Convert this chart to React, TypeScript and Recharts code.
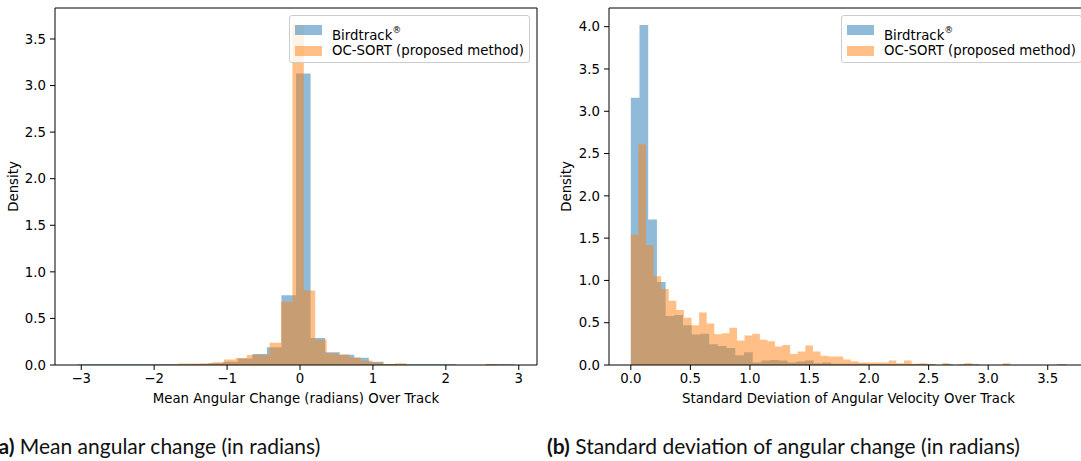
import React from "react";
import { ComposedChart, Area, XAxis, YAxis, ReferenceLine } from "recharts";

const BLUE = "#1f77b4";
const ORANGE = "#ff7f0e";
const FONT = "'DejaVu Sans', sans-serif";

// (a) mean angular change over track, 30 bins per method
const meanBirdStart = -3.05;
const meanBirdWidth = 0.1997;
const meanBird = [
  0.008, 0.008, 0.008, 0.008, 0.008, 0.008, 0.008, 0.008, 0.012, 0.02,
  0.035, 0.07, 0.118, 0.19, 0.75, 3.13, 0.29, 0.137, 0.11, 0.077,
  0.035, 0.01, 0.008, 0.008, 0.008, 0.008, 0, 0, 0.008, 0.008,
];
const meanOcStart = -1.98;
const meanOcWidth = 0.1563;
const meanOc = [
  0.005, 0.005, 0.015, 0.015, 0.02, 0.03, 0.06, 0.075, 0.107, 0.11,
  0.24, 0.68, 3.65, 0.8, 0.27, 0.127, 0.113, 0.08, 0.047, 0.027,
  0.012, 0.02, 0, 0, 0, 0, 0, 0, 0, 0.01,
];

// (b) std of angular velocity over track, 50 bins per method
const stdBirdStart = 0;
const stdBirdWidth = 0.0731;
const stdBird = [
  3.16, 4.02, 1.72, 0.98, 0.58, 0.59, 0.47, 0.36, 0.37, 0.245,
  0.225, 0.2, 0.115, 0.15, 0.03, 0.053, 0.06, 0.053, 0.03, 0.041,
  0.053, 0.02, 0.03, 0.015, 0.015, 0.015, 0.015, 0.012, 0.012, 0.01,
  0.01, 0.01, 0.01, 0.01, 0.01, 0, 0.01, 0, 0.005, 0.01,
  0, 0, 0, 0, 0, 0, 0, 0, 0, 0.01,
];
const stdOcStart = 0;
const stdOcWidth = 0.0637;
const stdOc = [
  1.54, 2.61, 1.42, 1.05, 0.9, 0.76, 0.65, 0.56, 0.47, 0.62,
  0.49, 0.365, 0.375, 0.44, 0.29, 0.35, 0.37, 0.3, 0.28, 0.22,
  0.235, 0.13, 0.16, 0.23, 0.16, 0.11, 0.1, 0.1, 0.065, 0.045,
  0.03, 0.03, 0.03, 0.03, 0.053, 0.02, 0.053, 0.015, 0.02, 0.01,
  0, 0.02, 0, 0.01, 0.02, 0, 0, 0, 0, 0.02,
];

const meanTicksX = [-3, -2, -1, 0, 1, 2, 3];
const meanTicksY = [0, 0.5, 1, 1.5, 2, 2.5, 3, 3.5];
const stdTicksX = [0, 0.5, 1, 1.5, 2, 2.5, 3, 3.5];
const stdTicksY = [0, 0.5, 1, 1.5, 2, 2.5, 3, 3.5, 4];

const birdName = "Birdtrack";
const ocName = "OC-SORT (proposed method)";

// value of the histogram bin that starts at or before x
function binValue(x: number, start: number, width: number, values: number[]) {
  const i = Math.floor((x - start) / width + 1e-6);
  return i >= 0 && i < values.length ? values[i] : 0;
}

function edges(start: number, width: number, values: number[]) {
  return Array.from({ length: values.length + 1 }, (_, i) => start + i * width);
}

function buildHist(
  bStart: number, bWidth: number, bird: number[],
  oStart: number, oWidth: number, oc: number[]
) {
  const xs = [...edges(bStart, bWidth, bird), ...edges(oStart, oWidth, oc)].sort((a, b) => a - b);
  return xs.map((x) => ({
    x,
    bird: binValue(x, bStart, bWidth, bird),
    oc: binValue(x, oStart, oWidth, oc),
  }));
}

const tickStyle = { fontFamily: FONT, fontSize: 13.3, fill: "#000" };

const HistLegend = ({ left }: { left: number }) => (
  <div
    style={{
      position: "absolute",
      left,
      top: 15,
      width: 241,
      height: 48,
      boxSizing: "border-box",
      border: "1px solid #cccccc",
      borderRadius: 3,
      background: "rgba(255,255,255,0.8)",
      fontFamily: FONT,
      fontSize: 13.3,
      color: "#000",
    }}
  >
    {[
      { c: BLUE, label: <>{birdName}<sup style={{ fontSize: 9, verticalAlign: "7px" }}>®</sup></>, cy: 14 },
      { c: ORANGE, label: <>{ocName}</>, cy: 35 },
    ].map((r, i) => (
      <div key={i}>
        <div
          style={{
            position: "absolute",
            left: 5,
            top: r.cy - 5,
            width: 26.7,
            height: 9.5,
            background: r.c,
            opacity: 0.5,
          }}
        />
        <div style={{ position: "absolute", left: 42, top: r.cy - 9, lineHeight: "18px", whiteSpace: "nowrap" }}>
          {r.label}
        </div>
      </div>
    ))}
  </div>
);

type PanelProps = {
  left: number;
  width: number;
  yAxisWidth: number;
  rightMargin: number;
  data: { x: number; bird: number; oc: number }[];
  xDomain: [number, number];
  yDomain: [number, number];
  xTicks: number[];
  yTicks: number[];
  xFormat: (v: number) => string;
  xLabel: string;
  densityX: number;
  legendLeft: number;
};

const HistPanel: React.FC<PanelProps> = (p) => (
  <div style={{ position: "absolute", left: p.left, top: 0, width: p.width, height: 410 }}>
    <ComposedChart
      width={p.width}
      height={410}
      data={p.data}
      margin={{ top: 8, right: p.rightMargin, bottom: 0, left: 0 }}
    >
      <XAxis
        dataKey="x"
        type="number"
        domain={p.xDomain}
        allowDataOverflow
        ticks={p.xTicks}
        tickFormatter={p.xFormat}
        interval={0}
        height={45}
        tickSize={5}
        tickMargin={4}
        tick={tickStyle}
        stroke="#000"
        axisLine={{ stroke: "#000", strokeWidth: 1 }}
        tickLine={{ stroke: "#000" }}
        label={{
          value: p.xLabel,
          position: "insideTop",
          offset: 29,
          style: { fontFamily: FONT, fontSize: 13.3, fill: "#000" },
        }}
      />
      <YAxis
        type="number"
        domain={p.yDomain}
        allowDataOverflow
        ticks={p.yTicks}
        tickFormatter={(v: number) => v.toFixed(1)}
        interval={0}
        width={p.yAxisWidth}
        tickSize={5}
        tickMargin={4}
        tick={tickStyle}
        axisLine={{ stroke: "#000", strokeWidth: 1 }}
        tickLine={{ stroke: "#000" }}
        label={{
          content: () => (
            <text
              x={p.densityX}
              y={186.5}
              transform={`rotate(-90 ${p.densityX} 186.5)`}
              textAnchor="middle"
              dominantBaseline="central"
              style={{ fontFamily: FONT, fontSize: 13.3, fill: "#000" }}
            >
              Density
            </text>
          ),
        }}
      />
      <Area
        type="stepAfter"
        dataKey="bird"
        name={birdName}
        stroke="none"
        fill={BLUE}
        fillOpacity={0.5}
        dot={false}
        activeDot={false}
        isAnimationActive={false}
      />
      <Area
        type="stepAfter"
        dataKey="oc"
        name={ocName}
        stroke="none"
        fill={ORANGE}
        fillOpacity={0.5}
        dot={false}
        activeDot={false}
        isAnimationActive={false}
      />
      <ReferenceLine y={p.yDomain[1]} stroke="#000" strokeWidth={1} />
      <ReferenceLine x={p.xDomain[1]} stroke="#000" strokeWidth={1} />
    </ComposedChart>
    <HistLegend left={p.legendLeft} />
  </div>
);

const meanData = buildHist(meanBirdStart, meanBirdWidth, meanBird, meanOcStart, meanOcWidth, meanOc);
const stdData = buildHist(stdBirdStart, stdBirdWidth, stdBird, stdOcStart, stdOcWidth, stdOc);

const captionStyle: React.CSSProperties = {
  position: "absolute",
  top: 434,
  fontFamily: "Lato, 'Open Sans', sans-serif",
  fontSize: 21,
  lineHeight: "24px",
  color: "#111",
  whiteSpace: "nowrap",
};

export default function App() {
  return (
    <div
      style={{
        position: "absolute",
        left: 0,
        top: 0,
        width: 1081,
        height: 461,
        overflow: "hidden",
        background: "#fff",
      }}
    >
      <HistPanel
        left={0}
        width={540}
        yAxisWidth={55}
        rightMargin={3}
        data={meanData}
        xDomain={[-3.36, 3.25]}
        yDomain={[0, 3.8325]}
        xTicks={meanTicksX}
        yTicks={meanTicksY}
        xFormat={(v) => String(v).replace("-", "\u2212")}
        xLabel="Mean Angular Change (radians) Over Track"
        densityX={13.5}
        legendLeft={289}
      />
      <HistPanel
        left={540}
        width={548}
        yAxisWidth={69}
        rightMargin={0}
        data={stdData}
        xDomain={[-0.183, 3.838]}
        yDomain={[0, 4.221]}
        xTicks={stdTicksX}
        yTicks={stdTicksY}
        xFormat={(v) => v.toFixed(1)}
        xLabel="Standard Deviation of Angular Velocity Over Track"
        densityX={26}
        legendLeft={301}
      />
      <div style={{ ...captionStyle, left: -7 }}>
        <b>(a)</b> Mean angular change (in radians)
      </div>
      <div style={{ ...captionStyle, left: 547 }}>
        <b>(b)</b> Standard deviation of angular change (in radians)
      </div>
    </div>
  );
}
